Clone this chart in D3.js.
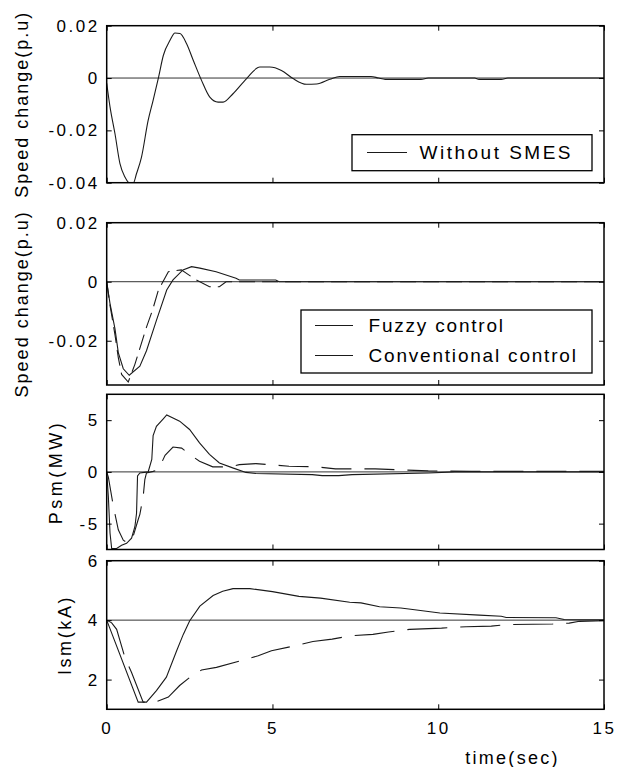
<!DOCTYPE html>
<html>
<head>
<meta charset="utf-8">
<script src="https://cdn.jsdelivr.net/npm/d3@7"></script>
<style>
body { margin: 0; background: #fff; }
text { font-family: "Liberation Sans", Arial, sans-serif; fill: #000; }
</style>
</head>
<body>
<div id="chart"></div>
<script>
// values, [time (sec), value]
var timeTicks = [0, 5, 10, 15];
var timeLabels = ["0", "5", "10", "15"];

var speedWithout = [[0,-0.002],[0.1,-0.011],[0.25,-0.0213],[0.4,-0.0327],[0.55,-0.0378],[0.7,-0.0402],[0.8,-0.0402],
    [0.9,-0.0365],[1.05,-0.0302],[1.25,-0.0162],[1.4,-0.0085],[1.56,0.0001],[1.71,0.0087],[1.91,0.0144],[2.06,0.0172],
    [2.21,0.017],[2.41,0.0131],[2.61,0.0068],[2.86,-0.0009],[3.11,-0.0073],[3.36,-0.0092],[3.51,-0.0092],[3.81,-0.006],
    [4.22,-0.0002],[4.62,0.0042],[4.92,0.0042],[5.27,0.0029],[5.62,-0.0002],[6.02,-0.0024],[6.33,-0.0023],[6.73,-0.0005],
    [7.03,0.0006],[7.97,0.0006],[8.2,0],[8.4,-0.0005],[9.48,-0.0005],[9.7,0],[11.1,0],[11.23,-0.0005],[11.9,-0.0005],
    [12.1,0],[15,0]];

var speedFuzzy = [[0,0],[0.1,-0.0074],[0.25,-0.016],[0.35,-0.024],[0.5,-0.0295],[0.68,-0.0317],[1.0,-0.0286],
    [1.2,-0.0234],[1.5,-0.0131],[1.81,-0.0028],[2.0,0.0006],[2.3,0.004],[2.56,0.0051],[2.81,0.0046],[3.3,0.0034],
    [3.9,0.0012],[4.0,0.0006],[5.1,0.0006],[5.2,0],[15,0]];
var speedConv = [[0,0],[0.1,-0.008],[0.25,-0.018],[0.35,-0.0257],[0.45,-0.0314],[0.65,-0.034],[0.85,-0.028],
    [1.2,-0.0154],[1.38,-0.0097],[1.56,-0.0028],[1.86,0.0034],[2.25,0.004],[2.7,0.0006],[3.1,-0.0017],[3.4,-0.0017],
    [3.6,0],[15,0]];

var psmFuzzy = [[0,0],[0.05,-2.4],[0.1,-5.9],[0.15,-7.4],[0.3,-7.4],[0.45,-7.1],[0.6,-6.9],[0.75,-6.4],[0.85,-5.3],
    [0.9,-4.0],[0.93,-0.4],[1.0,-0.1],[1.25,0],[1.36,1.2],[1.4,3.5],[1.5,4.4],[1.7,5.1],[1.81,5.5],[2.0,5.2],[2.2,4.9],
    [2.5,4.1],[2.8,2.8],[3.1,1.7],[3.4,0.87],[3.8,0.39],[4.2,-0.05],[4.5,-0.15],[6.2,-0.26],[6.5,-0.36],[7.0,-0.36],
    [7.4,-0.26],[9.7,-0.1],[10.5,0],[15,0]];
var psmConv = [[0,0],[0.05,-0.5],[0.2,-3.3],[0.35,-5.6],[0.5,-6.6],[0.65,-6.9],[0.8,-6.2],[0.95,-4.6],[1.0,-4.1],
    [1.1,-2.4],[1.15,-0.75],[1.2,-0.1],[1.4,0.05],[1.56,0.22],[1.76,1.6],[2.0,2.4],[2.26,2.3],[2.5,1.7],[2.8,1.03],
    [3.2,0.49],[3.7,0.49],[4.0,0.7],[4.5,0.8],[5.5,0.55],[6.3,0.5],[6.9,0.29],[8.1,0.29],[8.7,0.22],[9.7,0.1],
    [11,0.05],[15,0.05]];

var ismFuzzy = [[0,4],[0.95,1.24],[1.2,1.24],[1.5,1.63],[1.8,2.08],[2.11,2.97],[2.31,3.52],[2.5,3.97],[2.81,4.47],
    [3.21,4.83],[3.5,4.97],[3.81,5.06],[4.32,5.06],[5.0,4.96],[5.8,4.8],[6.45,4.74],[7.33,4.6],[7.67,4.58],[8.23,4.45],
    [8.87,4.41],[9.23,4.36],[10.05,4.24],[11.24,4.17],[11.9,4.13],[12.05,4.09],[13.55,4.08],[13.8,4.02],[15,4.01]];
var ismConv = [[0,4],[0.15,3.91],[0.3,3.69],[0.55,2.74],[0.75,2.24],[1.1,1.24],[1.45,1.24],[1.86,1.41],[2.2,1.8],
    [2.51,2.08],[2.86,2.32],[3.31,2.41],[4.0,2.62],[4.57,2.8],[4.97,2.97],[5.6,3.12],[6.22,3.28],[6.8,3.36],[7.33,3.47],
    [8.03,3.52],[8.5,3.6],[9.14,3.69],[10.1,3.73],[10.84,3.78],[11.6,3.8],[12.1,3.85],[13.45,3.87],[13.95,3.9],
    [14.26,3.96],[15,3.98]];

var speedTicks1 = [-0.04, -0.02, 0, 0.02];
var speedLabels1 = ["-0.04", "-0.02", "0", "0.02"];
var speedTicks2 = [-0.02, 0, 0.02];
var speedLabels2 = ["-0.02", "0", "0.02"];
var psmTicks = [-5, 0, 5];
var psmLabels = ["-5", "0", "5"];
var ismTicks = [2, 4, 6];
var ismLabels = ["2", "4", "6"];

var legendNames1 = ["Without SMES"];
var legendNames2 = ["Fuzzy control", "Conventional control"];

var W = 629, H = 767;
var svg = d3.select("#chart").append("svg").attr("width", W).attr("height", H);

var x = d3.scaleLinear().domain([0, 15]).range([106.7, 604]);

var panels = [
    { top: 25.7, bottom: 182.7, domain: [-0.04, 0.02], ticks: speedTicks1, labels: speedLabels1, ref: 0,
      series: [{ data: speedWithout, smooth: true }], ylabel: "Speed change(p.u)", labelX: 28, ls: 2 },
    { top: 222.7, bottom: 385, domain: [-0.035, 0.02], ticks: speedTicks2, labels: speedLabels2, ref: 0,
      series: [{ data: speedFuzzy }, { data: speedConv, dash: "16,7" }], ylabel: "Speed change(p.u)", labelX: 28, ls: 2 },
    { top: 394.3, bottom: 549.5, domain: [-7.5, 7.5], ticks: psmTicks, labels: psmLabels, ref: 0,
      series: [{ data: psmFuzzy }, { data: psmConv, dash: "30,13" }], ylabel: "Psm(MW)", labelX: 62, ls: 3.5 },
    { top: 560.7, bottom: 709.3, domain: [1, 6], ticks: ismTicks, labels: ismLabels, ref: 4,
      series: [{ data: ismFuzzy }, { data: ismConv, dash: "40,13" }], ylabel: "Ism(kA)", labelX: 71, ls: 2.6 }
];

panels.forEach(function(p, i) {
    var y = d3.scaleLinear().domain(p.domain).range([p.bottom, p.top]);
    var g = svg.append("g");

    g.append("clipPath").attr("id", "clip" + i)
        .append("rect")
        .attr("x", x(0)).attr("y", p.top)
        .attr("width", x(15) - x(0)).attr("height", p.bottom - p.top);

    // reference line
    g.append("line")
        .attr("x1", x(0)).attr("x2", x(15))
        .attr("y1", y(p.ref)).attr("y2", y(p.ref))
        .attr("stroke", "#333").attr("stroke-width", 1);

    p.series.forEach(function(s) {
        var line = d3.line()
            .x(function(d) { return x(d[0]); })
            .y(function(d) { return y(d[1]); })
            .curve(s.smooth ? d3.curveMonotoneX : d3.curveLinear);
        g.append("path")
            .datum(s.data)
            .attr("clip-path", "url(#clip" + i + ")")
            .attr("fill", "none")
            .attr("stroke", "#1a1a1a")
            .attr("stroke-width", 1.1)
            .attr("stroke-dasharray", s.dash || null)
            .attr("d", line);
    });

    // left axis with labels, ticks pointing inward
    g.append("g")
        .attr("transform", "translate(" + x(0) + ",0)")
        .call(d3.axisLeft(y).tickValues(p.ticks)
            .tickFormat(function(d, k) { return p.labels[k]; })
            .tickSize(-5).tickPadding(7))
        .call(function(a) { a.select(".domain").remove(); });

    g.append("g")
        .attr("transform", "translate(" + x(15) + ",0)")
        .call(d3.axisRight(y).tickValues(p.ticks).tickFormat("").tickSize(-5))
        .call(function(a) { a.select(".domain").remove(); });

    g.append("g")
        .attr("transform", "translate(0," + p.top + ")")
        .call(d3.axisTop(x).tickValues(timeTicks).tickFormat("").tickSize(-5))
        .call(function(a) { a.select(".domain").remove(); });

    var bottomAxis = d3.axisBottom(x).tickValues(timeTicks).tickSize(-5);
    if (i === panels.length - 1) {
        bottomAxis.tickFormat(function(d, k) { return timeLabels[k]; }).tickPadding(12.7);
    } else {
        bottomAxis.tickFormat("");
    }
    g.append("g")
        .attr("transform", "translate(0," + p.bottom + ")")
        .call(bottomAxis)
        .call(function(a) { a.select(".domain").remove(); });

    g.selectAll(".tick line").attr("stroke", "#000").attr("stroke-width", 1);
    g.selectAll(".tick text")
        .style("font-family", '"Liberation Sans", Arial, sans-serif')
        .style("font-size", "17px")
        .style("letter-spacing", "2.5px")
        .attr("fill", "#000");

    g.append("rect")
        .attr("x", x(0)).attr("y", p.top)
        .attr("width", x(15) - x(0)).attr("height", p.bottom - p.top)
        .attr("fill", "none").attr("stroke", "#000").attr("stroke-width", 1.5);

    g.append("text")
        .attr("transform", "translate(" + p.labelX + "," + ((p.top + p.bottom) / 2) + ") rotate(-90)")
        .attr("text-anchor", "middle")
        .style("font-size", "18px")
        .style("letter-spacing", p.ls + "px")
        .text(p.ylabel);
});

svg.append("text")
    .attr("x", 512.5).attr("y", 764)
    .attr("text-anchor", "middle")
    .style("font-size", "18px")
    .style("letter-spacing", "2.3px")
    .text("time(sec)");

// legends
function legend(box, names, lineX, textX, rows, ls) {
    var lg = svg.append("g");
    lg.append("rect")
        .attr("x", box[0]).attr("y", box[1]).attr("width", box[2]).attr("height", box[3])
        .attr("fill", "#fff").attr("stroke", "#000").attr("stroke-width", 1.3);
    names.forEach(function(n, k) {
        lg.append("line")
            .attr("x1", lineX[0]).attr("x2", lineX[1])
            .attr("y1", rows[k] - 6).attr("y2", rows[k] - 6)
            .attr("stroke", "#1a1a1a").attr("stroke-width", 1);
        lg.append("text")
            .attr("x", textX).attr("y", rows[k])
            .style("font-size", "19px")
            .style("letter-spacing", ls + "px")
            .text(n);
    });
}
legend([352, 134.7, 240, 36], legendNames1, [367, 407], 419.5, [158.5], 2.5);
legend([301, 310, 291, 63], legendNames2, [315, 353], 368.5, [331.5, 361.5], 1.8);
</script>
</body>
</html>
